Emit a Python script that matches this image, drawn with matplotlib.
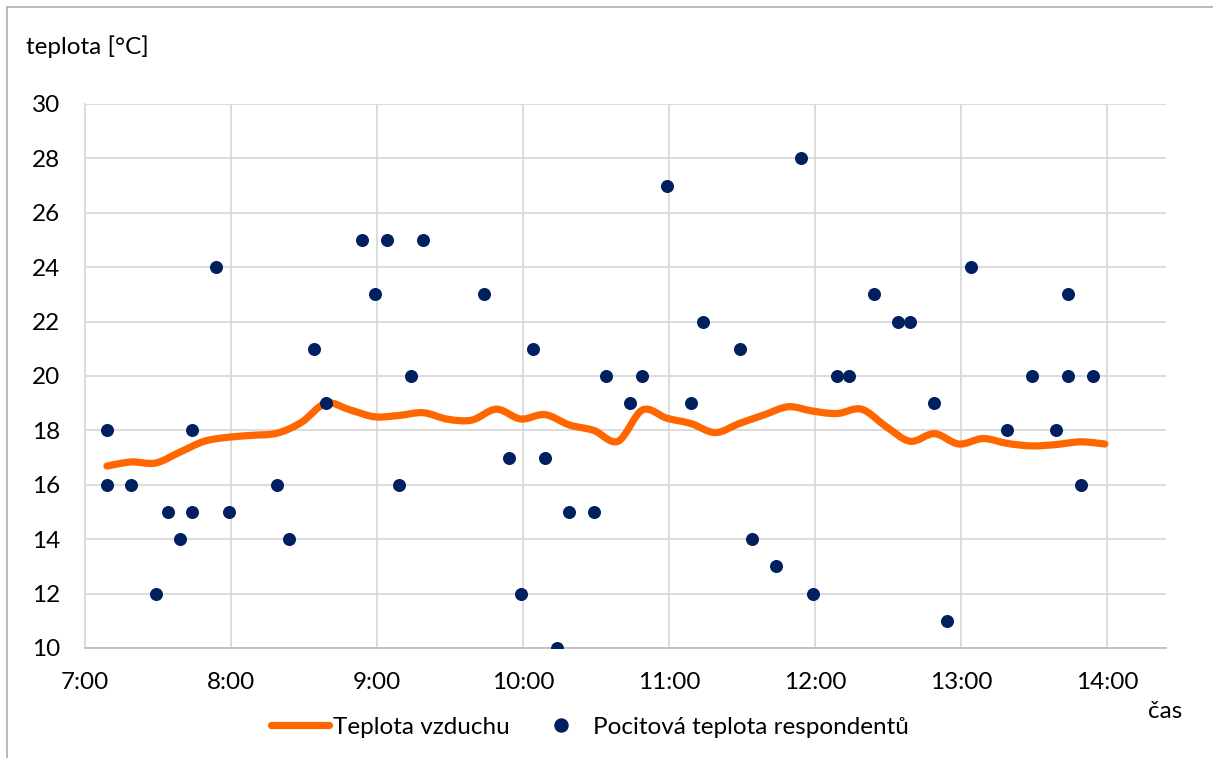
import numpy as np
import matplotlib
matplotlib.use("Agg")
import matplotlib.pyplot as plt
from matplotlib.path import Path
from matplotlib.patches import PathPatch
from matplotlib.lines import Line2D

plt.rcParams['font.family'] = ['Lato', 'DejaVu Sans']

# Teplota vzduchu (měření po 10 minutách)
air_times = ["7:09", "7:19", "7:29", "7:39", "7:49", "7:59",
             "8:09", "8:19", "8:29", "8:39", "8:49", "8:59",
             "9:09", "9:19", "9:29", "9:39", "9:49", "9:59",
             "10:09", "10:19", "10:29", "10:39", "10:49", "10:59",
             "11:09", "11:19", "11:29", "11:39", "11:49", "11:59",
             "12:09", "12:19", "12:29", "12:39", "12:49", "12:59",
             "13:09", "13:19", "13:29", "13:39", "13:49", "13:59"]
air_temp = [16.69, 16.84, 16.8, 17.2, 17.6, 17.75,
            17.82, 17.9, 18.3, 19.0, 18.75, 18.5,
            18.55, 18.65, 18.41, 18.38, 18.78, 18.42,
            18.58, 18.2, 18.0, 17.6, 18.75, 18.45,
            18.25, 17.92, 18.26, 18.57, 18.87, 18.71,
            18.62, 18.78, 18.15, 17.6, 17.88, 17.5,
            17.7, 17.52, 17.43, 17.48, 17.58, 17.5]

# Pocitová teplota respondentů
resp_times = ["7:09", "7:09", "7:19", "7:29", "7:34", "7:39", "7:44", "7:44",
              "7:54", "7:59", "8:19", "8:24", "8:34", "8:39", "8:54", "8:59",
              "9:04", "9:09", "9:14", "9:19", "9:44", "9:54", "9:59", "10:04",
              "10:09", "10:14", "10:19", "10:29", "10:34", "10:44", "10:49",
              "10:59", "11:09", "11:14", "11:29", "11:34", "11:44", "11:54",
              "11:59", "12:09", "12:14", "12:24", "12:34", "12:39", "12:49",
              "12:54", "13:04", "13:19", "13:29", "13:39", "13:44", "13:44",
              "13:49", "13:54"]
resp_temp = [18, 16, 16, 12, 15, 14, 18, 15,
             24, 15, 16, 14, 21, 19, 25, 23,
             25, 16, 20, 25, 23, 17, 12, 21,
             17, 10, 15, 15, 20, 19, 20,
             27, 19, 22, 21, 14, 13, 28,
             12, 20, 20, 23, 22, 22, 19,
             11, 24, 18, 20, 18, 23, 20,
             16, 20]

hour_ticks = list(range(7, 15))
y_ticks = list(range(10, 31, 2))


def to_hours(t):
    h, m = t.split(":")
    return int(h) + int(m) / 60


def smooth_path(xs, ys):
    # vyhlazená čára jako v Excelu - Bézierovy úseky mezi body
    pts = np.column_stack([xs, ys])
    p = np.vstack([pts[0], pts, pts[-1]])
    verts = [pts[0]]
    codes = [Path.MOVETO]
    for i in range(1, len(p) - 2):
        c1 = p[i] + (p[i + 1] - p[i - 1]) / 6
        c2 = p[i + 1] - (p[i + 2] - p[i]) / 6
        verts += [c1, c2, p[i + 1]]
        codes += [Path.CURVE4] * 3
    return Path(verts, codes)


air_x = [to_hours(t) for t in air_times]
resp_x = [to_hours(t) for t in resp_times]

W, H = 1213, 758
fs = 17.5
fig = plt.figure(figsize=(W / 100, H / 100), dpi=100)
ax = fig.add_axes([85 / W, 1 - 648 / H, (1165.7 - 85) / W, (648 - 104) / H])

orange = "#ff6600"
navy = "#002060"

ax.add_patch(PathPatch(smooth_path(air_x, air_temp), fill=False,
                       edgecolor=orange, lw=5.2, capstyle='round',
                       joinstyle='round', zorder=3))
ax.scatter(resp_x, resp_temp, s=88, color=navy, zorder=4, linewidths=0)

ax.set_xlim(7, 14.4)
ax.set_ylim(10, 30)
ax.set_xticks(hour_ticks)
ax.set_xticklabels([f"{h}:00" for h in hour_ticks])
ax.set_yticks(y_ticks)
ax.grid(True, color="#d9d9d9", lw=1.3)
ax.set_axisbelow(True)
for s in ["top", "right"]:
    ax.spines[s].set_visible(False)
ax.spines["left"].set_color("#d9d9d9")
ax.spines["left"].set_linewidth(1.3)
ax.spines["bottom"].set_color("#bfbfbf")
ax.spines["bottom"].set_linewidth(1.3)
ax.tick_params(length=0, labelsize=fs, colors="#000000")
ax.tick_params(axis="x", pad=17)
ax.tick_params(axis="y", pad=18)

fig.text(26 / W, 1 - 47 / H, "teplota [°C]", fontsize=fs, va="center", ha="left")
fig.text(1148 / W, 1 - 711 / H, "čas", fontsize=fs, va="center", ha="left")

handles = [Line2D([], [], color=orange, lw=5.2, solid_capstyle='round'),
           Line2D([], [], color=navy, lw=0, marker='o', markersize=9.4)]
fig.legend(handles, ["Teplota vzduchu", "Pocitová teplota respondentů"],
           loc="center", bbox_to_anchor=(590 / W, 1 - 727 / H), ncol=2,
           frameon=False, fontsize=fs, handlelength=2.4, handletextpad=0.15,
           columnspacing=0.9)

# rámeček grafu
fig.add_artist(Line2D([7 / W, 1212 / W], [1 - 7 / H, 1 - 7 / H], color="#b4b4b4", lw=1.3))
fig.add_artist(Line2D([7 / W, 7 / W], [1 - 7 / H, 0], color="#b4b4b4", lw=1.3))

fig.savefig("out.png", dpi=100)
